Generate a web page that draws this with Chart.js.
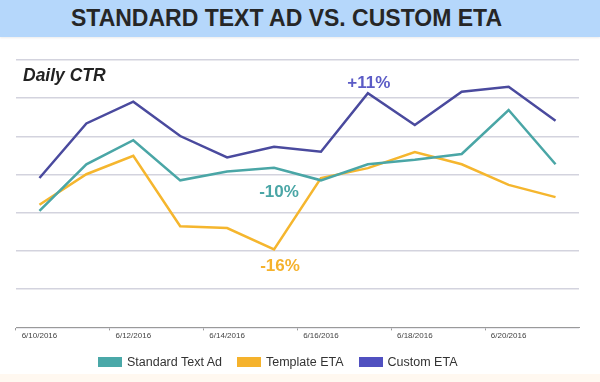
<!DOCTYPE html>
<html>
<head>
<meta charset="utf-8">
<script src="https://cdn.jsdelivr.net/npm/chart.js@4/dist/chart.umd.min.js"></script>
<style>
  html, body { margin: 0; padding: 0; background: #ffffff; }
  #wrap { position: relative; width: 600px; height: 382px; overflow: hidden; background: #ffffff; font-family: "Liberation Sans", Arial, sans-serif; }
  #header { position: absolute; left: 0; top: 0; width: 600px; height: 37px; background: #b5d7fb; box-shadow: 0 1px 2px rgba(0,0,0,0.08); }
  #title { position: absolute; left: 0; width: 573px; top: 5px; text-align: center; font-weight: bold; font-size: 23px; color: #262626; white-space: nowrap; }
  #footer { position: absolute; left: 0; top: 374px; width: 600px; height: 8px; background: #fff8f0; }
  #chart { position: absolute; left: 0; top: 0; }
  #subtitle { position: absolute; left: 23px; top: 65px; font-weight: bold; font-style: italic; font-size: 17.5px; color: #222; }
  #legend { position: absolute; left: 98px; top: 355px; display: flex; align-items: center; font-size: 12.5px; color: #333; }
  .item { display: flex; align-items: center; margin-right: 15px; }
  .box { width: 24px; height: 10px; margin-right: 5px; }
</style>
</head>
<body>
<div id="wrap">
  <div id="header"><div id="title">STANDARD TEXT AD VS. CUSTOM ETA</div></div>
  <div id="footer"></div>
  <canvas id="chart" width="600" height="382"></canvas>
  <div id="subtitle">Daily CTR</div>
  <div id="legend"></div>
</div>
<script>
// ---- data ----
const categories = ['6/10/2016','6/11/2016','6/12/2016','6/13/2016','6/14/2016','6/15/2016','6/16/2016','6/17/2016','6/18/2016','6/19/2016','6/20/2016','6/21/2016'];
const seriesNames = ['Standard Text Ad', 'Template ETA', 'Custom ETA'];
const standardTextAd = [3.05, 4.27, 4.90, 3.85, 4.08, 4.18, 3.85, 4.27, 4.39, 4.54, 5.69, 4.27];
const templateEta    = [3.21, 4.01, 4.49, 2.65, 2.60, 2.04, 3.91, 4.17, 4.59, 4.27, 3.73, 3.41];
const customEta      = [3.91, 5.34, 5.91, 5.01, 4.45, 4.73, 4.60, 6.13, 5.30, 6.17, 6.30, 5.41];
const annotationTexts = ['+11%', '-10%', '-16%'];

// ---- styles ----
const lineColors = ['#4aa6a6', '#f5b62e', '#4a4a9e'];
const legendColors = ['#4aa8a8', '#f5b22c', '#5050c0'];
const annotationStyle = [
  { series: 2, index: 7, color: '#5b5bc6', dx: 1, dy: -5 },
  { series: 0, index: 5, color: '#4aa6a6', dx: 5, dy: 29 },
  { series: 1, index: 5, color: '#f5b22c', dx: 6, dy: 22 }
];

const annotationPlugin = {
  id: 'annotations',
  afterDatasetsDraw(chart) {
    const ctx = chart.ctx;
    ctx.save();
    ctx.font = 'bold 17px "Liberation Sans", Arial, sans-serif';
    ctx.textAlign = 'center';
    ctx.textBaseline = 'alphabetic';
    annotationStyle.forEach((a, i) => {
      const pt = chart.getDatasetMeta(a.series).data[a.index];
      ctx.fillStyle = a.color;
      ctx.fillText(annotationTexts[i], pt.x + a.dx, pt.y + a.dy);
    });
    ctx.restore();
  }
};

const seriesData = [standardTextAd, templateEta, customEta];

const chart = new Chart(document.getElementById('chart'), {
  type: 'line',
  data: {
    labels: categories,
    datasets: seriesData.map((d, i) => ({
      label: seriesNames[i],
      data: d,
      borderColor: lineColors[i],
      backgroundColor: lineColors[i],
      borderWidth: 2.5,
      pointRadius: 0,
      tension: 0,
      fill: false
    }))
  },
  options: {
    responsive: false,
    animation: false,
    devicePixelRatio: 1,
    layout: { padding: { top: 60, left: 16, right: 21, bottom: 40 } },
    plugins: { legend: { display: false }, tooltip: { enabled: false }, title: { display: false } },
    scales: {
      x: {
        offset: true,
        border: { display: true, color: '#9a9a9a', width: 1 },
        grid: {
          offset: true,
          drawOnChartArea: false,
          drawTicks: true,
          tickLength: 3,
          color: (c) => (c.index % 2 === 0 ? '#9a9a9a' : 'rgba(0,0,0,0)')
        },
        ticks: {
          autoSkip: false,
          maxRotation: 0,
          padding: 1,
          color: '#444',
          font: { size: 8, family: '"Liberation Sans", Arial, sans-serif' },
          callback: (v, i) => (i % 2 === 0 ? categories[i] : '')
        }
      },
      y: {
        min: 0,
        max: 7,
        border: { display: false },
        grid: { color: '#d3d3de', lineWidth: 1.5, drawTicks: false },
        ticks: { display: false, stepSize: 1 }
      }
    }
  },
  plugins: [annotationPlugin]
});

// ---- HTML legend built from datasets ----
const legend = document.getElementById('legend');
chart.data.datasets.forEach((ds, i) => {
  const item = document.createElement('div');
  item.className = 'item';
  const box = document.createElement('div');
  box.className = 'box';
  box.style.background = legendColors[i];
  const txt = document.createElement('span');
  txt.textContent = ds.label;
  item.appendChild(box);
  item.appendChild(txt);
  legend.appendChild(item);
});
</script>
</body>
</html>
